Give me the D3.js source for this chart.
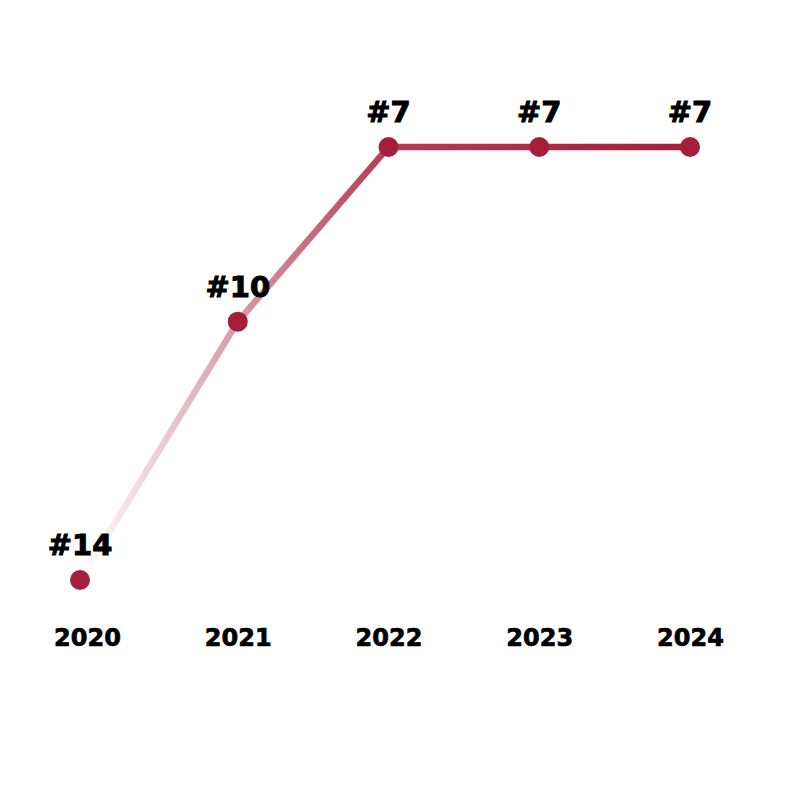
<!DOCTYPE html>
<html>
<head>
<meta charset="utf-8">
<script src="https://cdn.jsdelivr.net/npm/d3@7"></script>
<style>
  html, body { margin: 0; padding: 0; background: #fff; }
  svg { display: block; }
</style>
</head>
<body>
<svg id="chart" width="800" height="800"></svg>
<script>
const years = ["2020", "2021", "2022", "2023", "2024"];
const ranks = [14, 10, 7, 7, 7];
const rankLabels = ["#14", "#10", "#7", "#7", "#7"];

const data = years.map((y, i) => ({ year: y, rank: ranks[i], label: rankLabels[i], i }));

const svg = d3.select("#chart");
const font = "'DejaVu Sans', sans-serif";

const x = d3.scalePoint().domain(years).range([87, 690]);
const y = d3.scalePow().exponent(1.3).domain([14, 7]).range([580, 147]);
// first point sits slightly left of its year label in the original
const px = d => x(d.year) + (d.i === 0 ? -7 : 0);

const defs = svg.append("defs");
const grad = defs.append("linearGradient")
  .attr("id", "lineGrad")
  .attr("gradientUnits", "userSpaceOnUse")
  .attr("x1", px(data[0])).attr("y1", 0)
  .attr("x2", x("2024")).attr("y2", 0);
grad.append("stop").attr("offset", 0).attr("stop-color", "#ffffff");
grad.append("stop").attr("offset", 0.5).attr("stop-color", "#b43d55");
grad.append("stop").attr("offset", 1).attr("stop-color", "#a21f3b");

const line = d3.line().x(px).y(d => y(d.rank));

svg.append("path")
  .datum(data)
  .attr("d", line)
  .attr("fill", "none")
  .attr("stroke", "url(#lineGrad)")
  .attr("stroke-width", 6.5)
  .attr("stroke-linejoin", "round")
  .attr("stroke-linecap", "round");

svg.selectAll("circle.pt")
  .data(data)
  .join("circle")
  .attr("class", "pt")
  .attr("cx", px)
  .attr("cy", d => y(d.rank))
  .attr("r", 10)
  .attr("fill", "#a51e3a");

svg.selectAll("text.lbl")
  .data(data)
  .join("text")
  .attr("class", "lbl")
  .attr("x", px)
  .attr("y", d => y(d.rank) - 25)
  .attr("text-anchor", "middle")
  .attr("font-family", font)
  .attr("font-weight", "bold")
  .attr("font-size", 29)
  .attr("fill", "#000")
  .attr("stroke", "#000")
  .attr("stroke-width", 1)
  .text(d => d.label);

const xAxis = d3.axisBottom(x).tickSize(0).tickPadding(0);
const gx = svg.append("g")
  .attr("transform", "translate(0,628)")
  .call(xAxis);
gx.select(".domain").remove();
gx.selectAll("text")
  .attr("font-family", font)
  .attr("font-weight", "bold")
  .attr("font-size", 24)
  .attr("fill", "#000")
  .attr("stroke", "#000")
  .attr("stroke-width", 0.7)
  .attr("dy", "0.75em");
</script>
</body>
</html>
